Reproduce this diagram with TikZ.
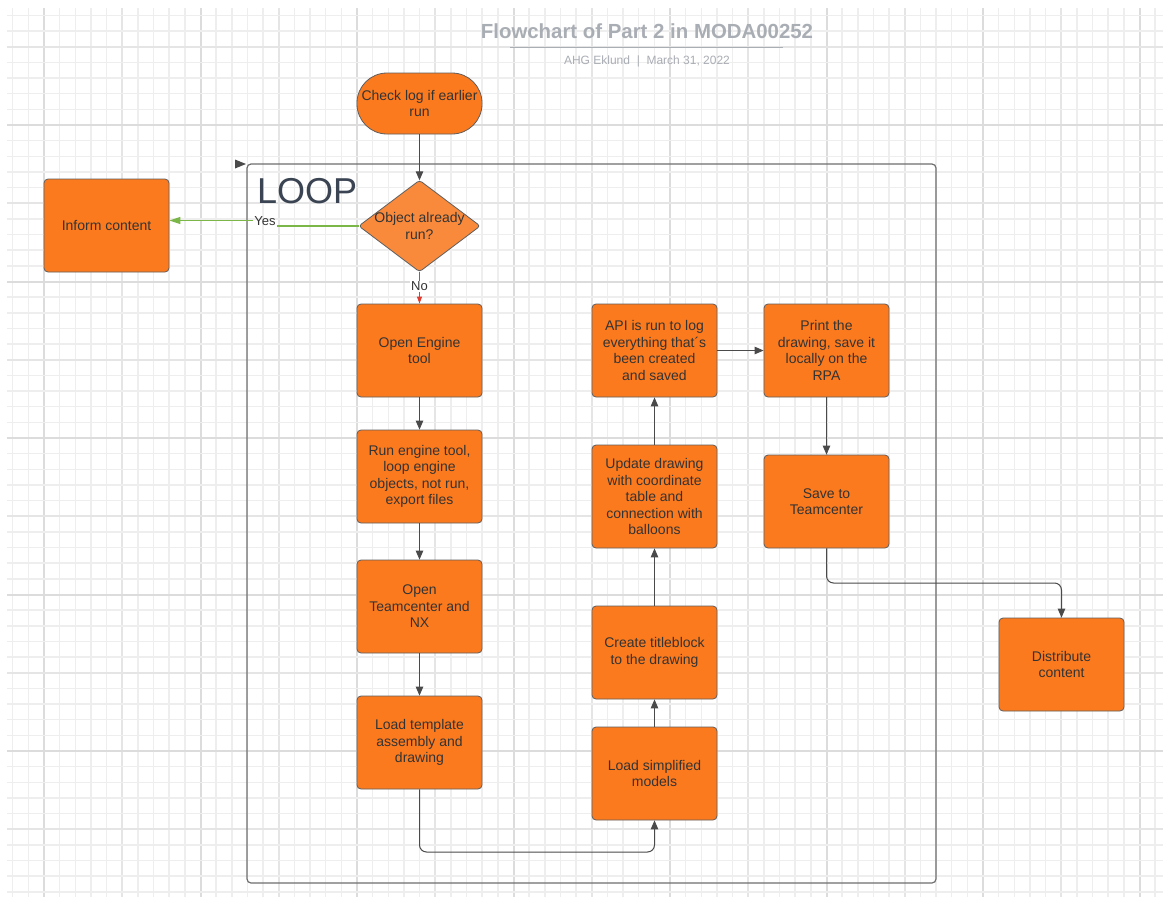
\documentclass[tikz,border=0pt]{standalone}
\usepackage{fontspec}
\setmainfont{Liberation Sans}
\usetikzlibrary{arrows.meta}

\definecolor{gridminor}{HTML}{EEEEEE}
\definecolor{gridmid}{HTML}{E5E5E5}
\definecolor{gridmajor}{HTML}{DCDCDC}
\definecolor{boxfill}{HTML}{FC7A1E}
\definecolor{diafill}{HTML}{F98A3C}
\definecolor{boxline}{HTML}{5E5E5E}
\definecolor{boxtext}{HTML}{333333}
\definecolor{connline}{HTML}{4A4A4A}
\definecolor{yesgreen}{HTML}{7AB648}
\definecolor{nored}{HTML}{E03C31}
\definecolor{framegray}{HTML}{6E6E6E}
\definecolor{titlegray}{HTML}{A9ADB4}
\definecolor{loopslate}{HTML}{3B4452}

\tikzset{
  flowbox/.style={draw=boxline, fill=boxfill, line width=0.8pt, rounded corners=4pt,
    minimum width=125pt, minimum height=93pt, inner sep=2pt, align=center,
    text=boxtext, font=\fontsize{14}{16.5}\selectfont},
  conn/.style={draw=connline, line width=1pt, -{Triangle[length=9pt,width=7.5pt]}},
  lbl/.style={text=boxtext, font=\fontsize{13}{15}\selectfont, inner sep=1pt},
}

\begin{document}
\begin{tikzpicture}[x=1pt,y=-1pt]
\useasboundingbox (0,0) rectangle (1163,897);
\fill[white] (0,0) rectangle (1163,897);

% background grid: minor every 15.65, medium every 5, major every 10
\foreach \i in {0,...,73}{
  \pgfmathsetmacro\gx{12.7+\i*15.65}
  \pgfmathtruncatemacro\gm{mod(\i+8,10)}
  \pgfmathtruncatemacro\gh{mod(\i+8,5)}
  \ifnum\gm=0
    \draw[gridmajor, line width=2pt] (\gx,8) -- (\gx,897);
  \else\ifnum\gh=0
    \draw[gridmid, line width=1.6pt] (\gx,8) -- (\gx,897);
  \else
    \draw[gridminor, line width=1.5pt] (\gx,8) -- (\gx,897);
  \fi\fi
}
\foreach \j in {0,...,56}{
  \pgfmathsetmacro\gy{15.45+\j*15.65}
  \pgfmathtruncatemacro\gm{mod(\j+3,10)}
  \pgfmathtruncatemacro\gh{mod(\j+3,5)}
  \ifnum\gm=0
    \draw[gridmajor, line width=2pt] (7,\gy) -- (1163,\gy);
  \else\ifnum\gh=0
    \draw[gridmid, line width=1.6pt] (7,\gy) -- (1163,\gy);
  \else
    \draw[gridminor, line width=1.5pt] (7,\gy) -- (1163,\gy);
  \fi\fi
}

% heading
\node[text=titlegray, font=\bfseries\fontsize{20.4}{24}\selectfont, anchor=base, inner sep=0] (head) at (647,38) {Flowchart of Part 2 in MODA00252};
\draw[titlegray, line width=1.4pt] (510,47.5) -- (783,47.5);
\node[text=titlegray, font=\fontsize{12}{14}\selectfont, anchor=base, inner sep=0] (byline) at (647,64.5) {AHG Eklund\ \ |\ \ March 31, 2022};

% loop frame
\node[draw=framegray, line width=1.2pt, rounded corners=4pt, minimum width=689pt, minimum height=719pt, inner sep=0] (loopframe) at (591.5,523.5) {};
\fill[connline] (235,159.5) -- (246,164) -- (235,168.5) -- cycle;
\node[text=loopslate, font=\fontsize{36}{40}\selectfont, anchor=base west, inner sep=0] (looplbl) at (257,203) {LOOP};

% start
\node[flowbox, rounded corners=30pt, minimum height=61pt] (start) at (419.5,103.5) {Check log if earlier\\run};

% decision
\node[inner sep=0, minimum width=121pt, minimum height=91pt] (dia) at (419.5,226) {};
\filldraw[fill=diafill, draw=boxline, line width=0.8pt, rounded corners=3pt]
  (dia.north) -- (dia.east) -- (dia.south) -- (dia.west) -- cycle;
\node[text=boxtext, font=\fontsize{14}{16.5}\selectfont, align=center, inner sep=0] (diatext) at (dia.center) {Object already\\run?};

% process boxes
\node[flowbox] (inform) at (106.5,225.5) {Inform content};
\node[flowbox] (eng)    at (419.5,350.5) {Open Engine\\tool};
\node[flowbox] (run)    at (419.5,476.5) {Run engine tool,\\loop engine\\objects, not run,\\export files};
\node[flowbox] (tc)     at (419.5,606.5) {Open\\Teamcenter and\\NX};
\node[flowbox] (tpl)    at (419.5,742.5) {Load template\\assembly and\\drawing};
\node[flowbox] (simp)   at (654.5,773.5) {Load simplified\\models};
\node[flowbox] (tblock) at (654.5,652.5) {Create titleblock\\to the drawing};
\node[flowbox, minimum height=103pt] (upd) at (654.5,496.5) {Update drawing\\with coordinate\\table and\\connection with\\balloons};
\node[flowbox] (api)    at (654.5,350.5) {API is run to log\\everything that´s\\been created\\and saved};
\node[flowbox] (print)  at (826.5,350.5) {Print the\\drawing, save it\\locally on the\\RPA};
\node[flowbox] (save)   at (826.5,501.5) {Save to\\Teamcenter};
\node[flowbox] (dist)   at (1061.5,664.5) {Distribute\\content};

% connectors
\draw[conn] (start.south) -- (dia.north);

\coordinate (yesR) at (277,226);
\coordinate (yesL) at (253,220.5);
\draw[yesgreen, line width=1.2pt] (dia.west) -- (yesR);
\draw[yesgreen, line width=1.2pt, -{Triangle[length=11pt,width=7pt]}] (yesL) -- (inform.east |- yesL);
\node[lbl] (yes) at (265,221) {Yes};

\draw[nored, line width=1.2pt, -{Triangle[length=7pt,width=5pt]}] (dia.south) -- (eng.north);
\node[lbl, fill=white] (no) at (419.5,286.5) {No};

\draw[conn] (eng.south) -- (run.north);
\draw[conn] (run.south) -- (tc.north);
\draw[conn] (tc.south) -- (tpl.north);

\coordinate (lowbend) at (537,852);
\draw[conn, rounded corners=7pt] (tpl.south) |- (lowbend) -| (simp.south);

\draw[conn] (simp.north) -- (tblock.south);
\draw[conn] (tblock.north) -- (upd.south);
\draw[conn] (upd.north) -- (api.south);
\draw[conn] (api.east) -- (print.west);
\draw[conn] (print.south) -- (save.north);

\coordinate (rightbend) at (940,583);
\draw[conn, rounded corners=7pt] (save.south) |- (rightbend) -| (dist.north);

\end{tikzpicture}
\end{document}
